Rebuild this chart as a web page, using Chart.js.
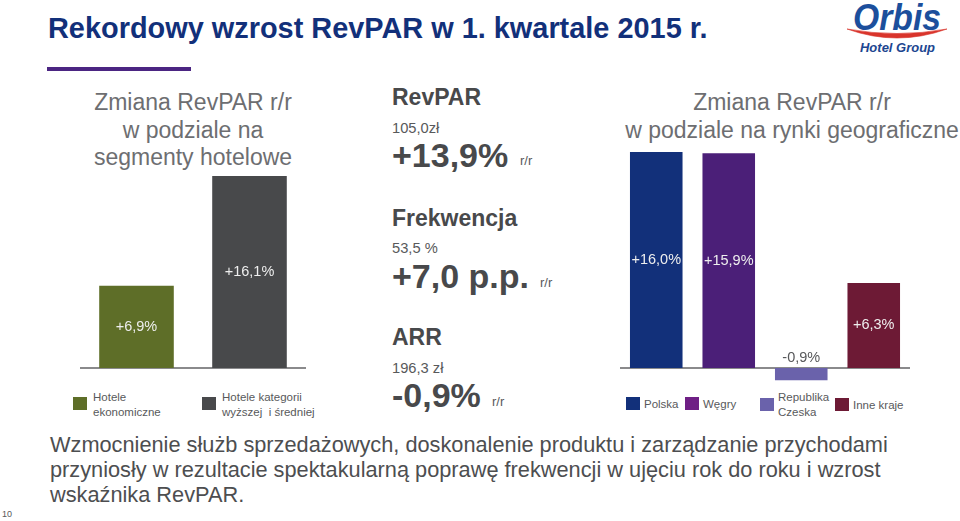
<!DOCTYPE html>
<html lang="pl"><head><meta charset="utf-8">
<script src="https://cdn.jsdelivr.net/npm/chart.js@4/dist/chart.umd.min.js"></script>
<style>
html,body{margin:0;padding:0;background:#fff;overflow:hidden;width:960px;height:521px}
body{font-family:"Liberation Sans",Arial,sans-serif;color:#58595b;position:relative}
.t{position:absolute;white-space:nowrap;line-height:1}
.c{text-align:center}
.sw{position:absolute}
canvas{position:absolute}
</style></head><body>
<div class="t" style="left:48px;top:14px;font-size:28.9px;font-weight:bold;color:#12307a">Rekordowy wzrost RevPAR w 1. kwartale 2015 r.</div>
<div style="position:absolute;left:47px;top:67px;width:144px;height:4px;background:#4b2582"></div>

<div class="t c" style="left:73px;width:240px;top:89px;font-size:23px;line-height:27.5px;color:#6d6e71">Zmiana RevPAR r/r<br>w podziale na<br>segmenty hotelowe</div>
<div class="t c" style="left:622px;width:340px;top:89px;font-size:23px;line-height:27.5px;color:#6d6e71">Zmiana RevPAR r/r<br>w podziale na rynki geograficzne</div>

<div class="t" style="left:392px;top:86px;font-size:23px;font-weight:bold;color:#48494b">RevPAR</div>
<div class="t" style="left:392px;top:121px;font-size:14.7px">105,0zł</div>
<div class="t" style="left:392px;top:138px;font-size:34px;font-weight:bold;color:#48494b">+13,9%</div>
<div class="t" style="left:520px;top:154px;font-size:13px">r/r</div>

<div class="t" style="left:392px;top:207px;font-size:23px;font-weight:bold;color:#48494b">Frekwencja</div>
<div class="t" style="left:392px;top:241px;font-size:14.7px">53,5 %</div>
<div class="t" style="left:392px;top:259px;font-size:34px;font-weight:bold;color:#48494b">+7,0 p.p.</div>
<div class="t" style="left:540px;top:276px;font-size:13px">r/r</div>

<div class="t" style="left:392px;top:326px;font-size:23px;font-weight:bold;color:#48494b">ARR</div>
<div class="t" style="left:392px;top:361px;font-size:14.7px">196,3 zł</div>
<div class="t" style="left:392px;top:378px;font-size:34px;font-weight:bold;color:#48494b">-0,9%</div>
<div class="t" style="left:492px;top:395px;font-size:13px">r/r</div>

<canvas id="left" style="left:80px;top:160px;width:226px;height:230px"></canvas>
<canvas id="right" style="left:620px;top:140px;width:290px;height:250px"></canvas>
<div id="legends"></div>

<div class="t" style="left:50px;top:432px;font-size:21.75px;line-height:25px;color:#4d4e50">Wzmocnienie służb sprzedażowych, doskonalenie produktu i zarządzanie przychodami<br>przyniosły w rezultacie spektakularną poprawę frekwencji w ujęciu rok do roku i wzrost<br>wskaźnika RevPAR.</div>
<div class="t" style="left:2px;top:510px;font-size:9px">10</div>

<svg style="position:absolute;left:840px;top:0" width="120" height="60" viewBox="0 0 120 60">
<text x="13" y="30" font-family="Liberation Sans" font-weight="bold" font-style="italic" font-size="37" textLength="88" lengthAdjust="spacingAndGlyphs" fill="#1c4f9c">Orbis</text>
<path d="M7 29 Q 57 47 107 29 Q 57 38 7 29 Z" fill="#d9342b" stroke="#d9342b" stroke-width="0.6"/>
<text x="20" y="52" font-family="Liberation Sans" font-weight="bold" font-style="italic" font-size="13" textLength="75" lengthAdjust="spacingAndGlyphs" fill="#1d4690">Hotel Group</text>
</svg>

<script>
const segmentCategories = ["Hotele ekonomiczne", "Hotele kategorii wyższej i średniej"];
const segmentValues = [6.9, 16.1];
const segmentLabels = ["+6,9%", "+16,1%"];
const segmentColors = ["#5e6e28", "#48494b"];

const marketCategories = ["Polska", "Węgry", "Republika Czeska", "Inne kraje"];
const marketValues = [16.0, 15.9, -0.9, 6.3];
const marketLabels = ["+16,0%", "+15,9%", "-0,9%", "+6,3%"];
const marketColors = ["#12307a", "#4b1f78", "#6a62ab", "#6d1a35"];

const valueLabels = {
  id: "valueLabels",
  afterDatasetsDraw(chart, args, opts) {
    const ctx = chart.ctx, meta = chart.getDatasetMeta(0);
    ctx.save();
    ctx.font = '14.5px "Liberation Sans"';
    ctx.textAlign = "center";
    ctx.textBaseline = "middle";
    meta.data.forEach((bar, i) => {
      const neg = chart.data.datasets[0].data[i] < 0;
      ctx.fillStyle = neg ? "#58595b" : "#eeeeee";
      const y = neg ? chart.scales.y.getPixelForValue(0) - 10 : (bar.y + bar.base) / 2;
      ctx.fillText(opts.labels[i], bar.x, y);
    });
    ctx.restore();
  }
};

function barChart(id, cats, vals, labels, colors, min, max, barPct) {
  new Chart(document.getElementById(id), {
    type: "bar",
    data: { labels: cats, datasets: [{ data: vals, backgroundColor: colors, barPercentage: barPct, categoryPercentage: 1 }] },
    options: {
      responsive: false, animation: false, devicePixelRatio: 1,
      layout: { padding: 0 },
      plugins: { legend: { display: false }, tooltip: { enabled: false }, valueLabels: { labels } },
      scales: {
        y: { display: false, min, max },
        x: { position: { y: 0 }, ticks: { display: false }, grid: { display: false, drawTicks: false },
             border: { display: true, color: "#8a8a8c", width: 2 } }
      }
    },
    plugins: [valueLabels]
  });
}
function size(id, w, h) { const c = document.getElementById(id); c.width = w; c.height = h; }
size("left", 226, 230); size("right", 290, 250);
barChart("left", segmentCategories, segmentValues, segmentLabels, segmentColors, -1.85, 17.45, 0.66);
barChart("right", marketCategories, marketValues, marketLabels, marketColors, -1.63, 16.89, 0.725);

// legends: [swatch x, swatch y, text x, text top, lines, colour]
const legendHost = document.getElementById("legends");
function legend(sx, sy, tx, ty, lines, color) {
  const s = document.createElement("div");
  s.className = "sw";
  s.style.cssText = `left:${sx}px;top:${sy}px;width:14px;height:13px;background:${color}`;
  legendHost.appendChild(s);
  const t = document.createElement("div");
  t.className = "t";
  t.style.cssText = `left:${tx}px;top:${ty}px;font-size:11.5px;line-height:15px`;
  t.innerHTML = lines.join("<br>");
  legendHost.appendChild(t);
}
legend(73, 397, 93, 390, ["Hotele", "ekonomiczne"], segmentColors[0]);
legend(202, 397, 222, 390, ["Hotele kategorii", "wyższej&nbsp; i średniej"], segmentColors[1]);
legend(626, 397, 644, 397, ["Polska"], marketColors[0]);
legend(685, 397, 703, 397, ["Węgry"], "#6f1f85");
legend(760, 398, 778, 390, ["Republika", "Czeska"], marketColors[2]);
legend(835, 398, 853, 398, ["Inne kraje"], marketColors[3]);
</script>
</body></html>
